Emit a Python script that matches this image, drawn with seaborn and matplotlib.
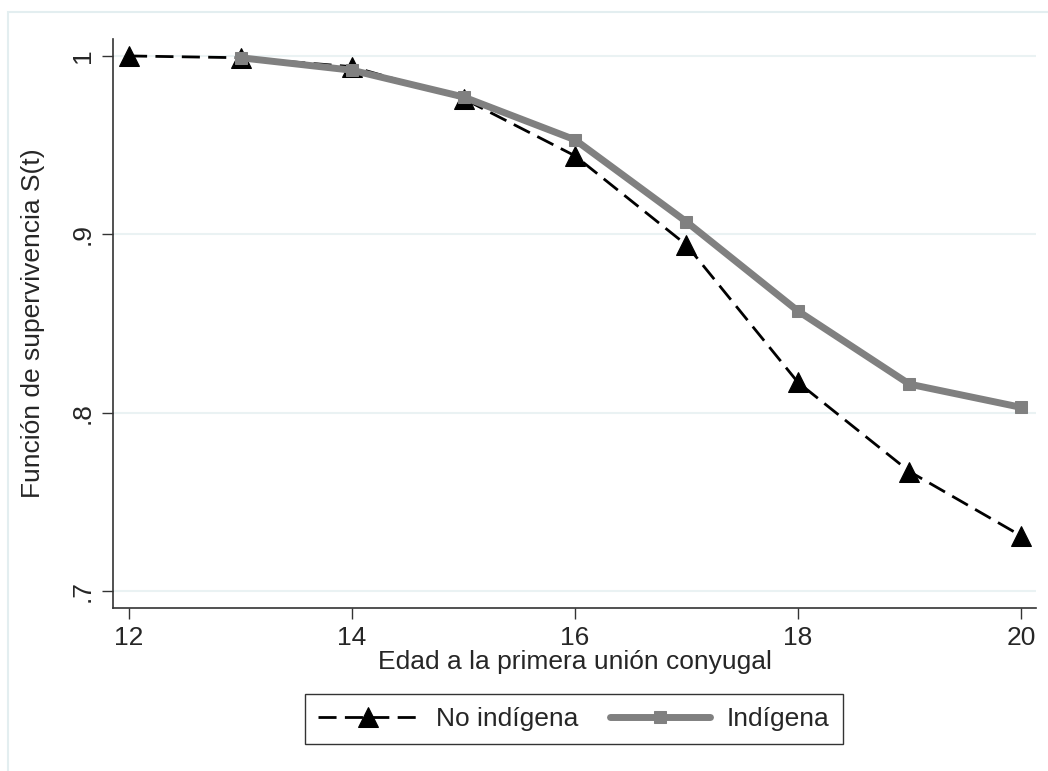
import numpy as np
import pandas as pd

import seaborn as sns
import matplotlib.pyplot as plt
from matplotlib.patches import Rectangle


# Survival values
edad_no_ind = [12, 13, 14, 15, 16, 17, 18, 19, 20]
surv_no_ind = [1.0, 0.999, 0.994, 0.976, 0.944, 0.894, 0.817, 0.767, 0.731]
edad_ind = [13, 14, 15, 16, 17, 18, 19, 20]
surv_ind = [0.999, 0.992, 0.977, 0.953, 0.907, 0.857, 0.816, 0.803]

x_ticks = [12, 14, 16, 18, 20]
y_ticks = [0.7, 0.8, 0.9, 1.0]
y_tick_labels = [".7", ".8", ".9", "1"]

sns.set_theme(style="white")
plt.rcParams["font.family"] = ["Liberation Sans", "DejaVu Sans"]

fig = plt.figure(figsize=(10.48, 7.71), dpi=100)
# light outer frame (graph region)
fig.patches.append(Rectangle((8 / 1048, -0.05), 1.1, (771 - 12) / 771 + 0.05,
    transform=fig.transFigure, fill=False, edgecolor="#e3eef0", linewidth=1.5))

ax = fig.add_axes([113 / 1048, 163 / 771, 923 / 1048, 569 / 771])

sns.lineplot(x=edad_no_ind, y=surv_no_ind, ax=ax, color="black",
    linestyle=(0, (6.5, 3)), linewidth=2, marker="^", markersize=14,
    markeredgecolor="black", label="No indígena", zorder=3)
sns.lineplot(x=edad_ind, y=surv_ind, ax=ax, color="#808080",
    linewidth=5, marker="s", markersize=9, markeredgecolor="#808080",
    label="Indígena", zorder=4)

ax.set_xlim(11.856, 20.135)
ax.set_ylim(0.6905, 1.0095)
ax.set_xticks(x_ticks)
ax.set_yticks(y_ticks)
ax.set_yticklabels(y_tick_labels, rotation=90, va="center")
ax.tick_params(axis="both", direction="out", length=8, width=1, color="#333333",
    labelsize=19, pad=5, bottom=True, left=True)
ax.grid(axis="y", color="#eaf2f3", linewidth=1.5)
ax.grid(axis="x", visible=False)
for side in ["top", "right"]:
    ax.spines[side].set_visible(False)
for side in ["left", "bottom"]:
    ax.spines[side].set_color("#333333")
    ax.spines[side].set_linewidth(1.2)

ax.set_xlabel("Edad a la primera unión conyugal", fontsize=19, labelpad=0)
ax.set_ylabel("Función de supervivencia S(t)", fontsize=19, labelpad=19)

leg = ax.legend(loc="upper center", bbox_to_anchor=(0.4995, -0.128), ncol=2,
    fontsize=19, frameon=True, fancybox=False, edgecolor="black",
    handlelength=3.8, handletextpad=0.65, columnspacing=1.2,
    borderpad=0.5, numpoints=1)
leg.get_frame().set_linewidth(1.0)

fig.savefig("out.png", dpi=100, facecolor="white")
